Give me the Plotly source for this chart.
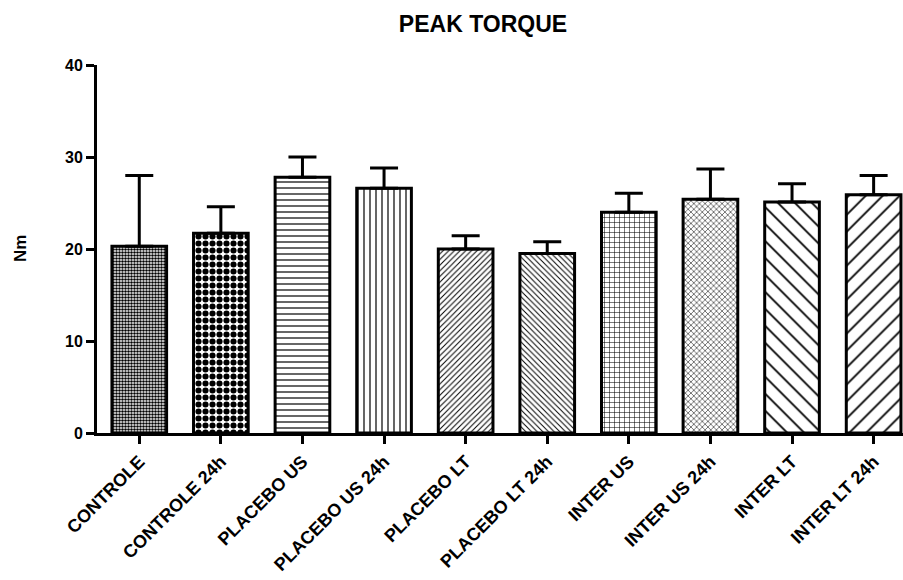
import plotly.graph_objects as go

categories = ["CONTROLE", "CONTROLE 24h", "PLACEBO US", "PLACEBO US 24h", "PLACEBO LT",
              "PLACEBO LT 24h", "INTER US", "INTER US 24h", "INTER LT", "INTER LT 24h"]
means = [20.3, 21.7, 27.8, 26.6, 20.0, 19.5, 24.0, 25.4, 25.1, 25.9]
sd_upper = [7.7, 2.9, 2.2, 2.2, 1.45, 1.3, 2.05, 3.3, 2.0, 2.1]
y_ticks = [0, 10, 20, 30, 40]

pattern_shapes = [".", ".", "-", "|", "/", "\\", "+", "x", "\\", "/"]
pattern_sizes = [3, 7, 6, 6, 4, 4, 5, 4, 12, 12]
pattern_solid = [0.55, 0.6, 0.2, 0.2, 0.25, 0.25, 0.2, 0.25, 0.15, 0.15]

FONT = "Arial, Liberation Sans, sans-serif"

fig = go.Figure()
fig.add_trace(go.Bar(
    x=list(range(len(categories))),
    y=means,
    width=0.67,
    marker=dict(
        color="white",
        line=dict(color="black", width=3),
        pattern=dict(shape=pattern_shapes, size=pattern_sizes, solidity=pattern_solid,
                     fgcolor="black", bgcolor="white", fgopacity=1, fillmode="replace"),
    ),
    error_y=dict(type="data", array=sd_upper, arrayminus=[0] * len(means), symmetric=False,
                 color="black", thickness=3, width=14),
    showlegend=False,
))

fig.update_layout(
    width=903, height=580, autosize=False,
    margin=dict(l=97, r=0, t=65, b=147),
    plot_bgcolor="white", paper_bgcolor="white",
    font=dict(family=FONT, color="black"),
    title=dict(text="<b>PEAK TORQUE</b>", x=483 / 903, xref="container", xanchor="center",
               y=1 - 24 / 580, yref="container", yanchor="middle",
               font=dict(size=23, family=FONT, color="black")),
    xaxis=dict(
        range=[-0.518, 9.36], tickmode="array", tickvals=list(range(len(categories))),
        ticktext=["<b>%s</b>" % c for c in categories], tickangle=-45,
        tickfont=dict(size=18, family=FONT, color="black"),
        showline=True, linecolor="black", linewidth=3, ticks="outside", ticklen=8,
        tickwidth=3, tickcolor="black", showgrid=False, zeroline=False, fixedrange=True,
        automargin=False,
    ),
    yaxis=dict(
        range=[0, 40], tickmode="array", tickvals=y_ticks,
        ticktext=["<b>%d</b>" % v for v in y_ticks],
        tickfont=dict(size=16, family=FONT, color="black"),
        showline=True, linecolor="black", linewidth=3, ticks="outside", ticklen=8,
        tickwidth=3, tickcolor="black", showgrid=False, zeroline=False, automargin=False,
    ),
    annotations=[dict(text="<b>Nm</b>", x=(20 - 97) / 806, xref="paper", y=20, yref="y",
                      textangle=-90, showarrow=False, xanchor="center", yanchor="middle",
                      font=dict(size=17, family=FONT, color="black"))],
)

fig.write_html("out.html", config={"displayModeBar": False},
               post_script="document.body.style.margin='0';")
